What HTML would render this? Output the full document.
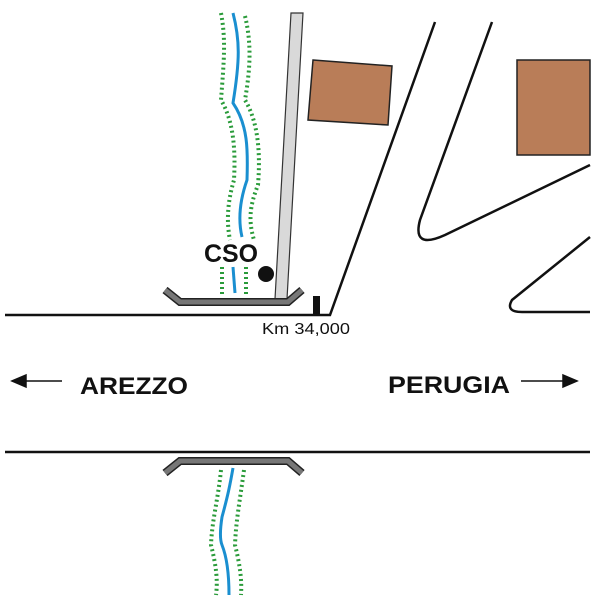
<!DOCTYPE html>
<html><head><style>html,body{margin:0;padding:0;background:#fff;}</style></head><body>
<svg width="600" height="600" viewBox="0 0 600 600" xmlns="http://www.w3.org/2000/svg" font-family="Liberation Sans, sans-serif">
<g fill="none" stroke="#2a9b3a" stroke-width="4" stroke-dasharray="2 3">
<path d="M221,13 C226,40 224,60 221,100 C236,125 235,160 234,180 C228,200 226,220 230,240"/>
<path d="M245,16 C252,45 250,70 245,100 C260,125 260,160 258,185 C250,205 248,220 254,240"/>
<path d="M222,267 L222,295"/><path d="M246,267 L246,295"/>
<path d="M221,470 C218,500 212,520 211,545 C216,565 218,580 216,595"/>
<path d="M244,470 C240,500 236,520 235,545 C240,565 242,580 241,595"/>
</g>
<g fill="none" stroke="#1a8fd0" stroke-width="3">
<path d="M233,13 C240,40 240,60 233,103 C248,125 248,150 247,180 C240,200 238,220 242,237"/>
<path d="M233,267 L235,293"/>
<path d="M233,468 C230,485 228,495 222,517 C220,530 220,540 222,545 C226,555 229,570 229,595"/>
</g>
<polygon points="291,13 303,13 287,299 275,299" fill="#d9d9d9" stroke="#333" stroke-width="1.2"/>
<g fill="none" stroke-linejoin="miter">
<polyline points="165,290 180,302 288,302 302,290" stroke="#222" stroke-width="8"/>
<polyline points="165,290 180,302 288,302 302,290" stroke="#777" stroke-width="5"/>
<polyline points="165,473 180,461 288,461 302,473" stroke="#222" stroke-width="8"/>
<polyline points="165,473 180,461 288,461 302,473" stroke="#777" stroke-width="5"/>
</g>
<polygon points="313,60 392,66 388,125 308,120" fill="#b97d58" stroke="#222" stroke-width="1.5"/>
<rect x="517" y="60" width="73" height="95" fill="#b97d58" stroke="#222" stroke-width="1.5"/>
<g fill="none" stroke="#111" stroke-width="2.5">
<polyline points="5,315 330,315 435,22"/>
<path d="M492,22 L420,220 Q412,250 445,235 L590,165"/>
<path d="M590,237 L512,300 Q505,312 522,312 L590,312"/>
<line x1="5" y1="452" x2="590" y2="452"/>
</g>
<rect x="313" y="296" width="7" height="19" fill="#111"/>
<circle cx="266" cy="274" r="8" fill="#111"/>
<text x="204" y="262" font-size="25" font-weight="bold" fill="#111" textLength="54" lengthAdjust="spacingAndGlyphs">CSO</text>
<text x="262" y="334" font-size="16" fill="#111" textLength="88" lengthAdjust="spacingAndGlyphs">Km 34,000</text>
<text x="80" y="394" font-size="24" font-weight="bold" fill="#111" textLength="108" lengthAdjust="spacingAndGlyphs">AREZZO</text>
<text x="388" y="393" font-size="24" font-weight="bold" fill="#111" textLength="122" lengthAdjust="spacingAndGlyphs">PERUGIA</text>
<g stroke="#111" stroke-width="1.5" fill="#111">
<line x1="62" y1="381" x2="20" y2="381"/><polygon points="12,381 26,375 26,387"/>
<line x1="521" y1="381" x2="565" y2="381"/><polygon points="577,381 563,375 563,387"/>
</g>
</svg>
</body></html>
